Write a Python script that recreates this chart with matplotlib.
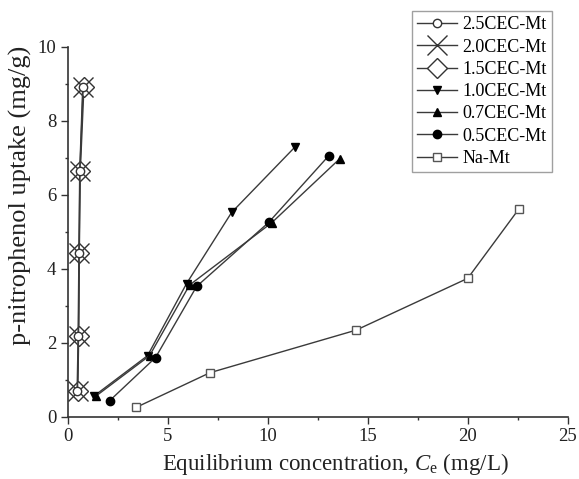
import matplotlib
matplotlib.use("Agg")
import matplotlib.pyplot as plt
from matplotlib.ticker import MultipleLocator

plt.rcParams['font.family'] = ['Liberation Serif', 'DejaVu Serif']
plt.rcParams['mathtext.fontset'] = 'custom'
plt.rcParams['mathtext.rm'] = 'Liberation Serif'
plt.rcParams['mathtext.it'] = 'Liberation Serif:italic'

labels = ["2.5CEC-Mt", "2.0CEC-Mt", "1.5CEC-Mt", "1.0CEC-Mt", "0.7CEC-Mt", "0.5CEC-Mt", "Na-Mt"]

x_25 = [0.48, 0.53, 0.57, 0.61, 0.76]
y_25 = [0.69, 2.17, 4.42, 6.65, 8.90]
x_20 = [0.50, 0.55, 0.58, 0.62, 0.78]
y_20 = [0.69, 2.17, 4.42, 6.65, 8.90]
x_15 = [0.51, 0.56, 0.59, 0.64, 0.82]
y_15 = [0.69, 2.17, 4.42, 6.65, 8.90]
x_10 = [1.30, 4.00, 5.95, 8.20, 11.35]
y_10 = [0.55, 1.65, 3.60, 5.52, 7.28]
x_07 = [1.40, 4.10, 6.10, 10.20, 13.60]
y_07 = [0.55, 1.65, 3.56, 5.24, 6.97]
x_05 = [2.10, 4.40, 6.45, 10.05, 13.05]
y_05 = [0.43, 1.60, 3.52, 5.25, 7.05]
x_na = [3.42, 7.12, 14.42, 20.00, 22.55]
y_na = [0.25, 1.19, 2.34, 3.74, 5.61]

fig = plt.figure(figsize=(5.79, 4.79), dpi=100)
ax = fig.add_axes([0.1166, 0.130, 0.864, 0.7725])

lc = '#3a3a3a'
lw = 1.0
ax.plot(x_25, y_25, '-', color=lc, lw=lw, marker='o', ms=6, mfc='white', mec='#333333', mew=1.0, label=labels[0], zorder=5)
ax.plot(x_20, y_20, '-', color=lc, lw=lw, marker='x', ms=14, mec='#333333', mew=1.0, label=labels[1], zorder=4)
ax.plot(x_15, y_15, '-', color=lc, lw=lw, marker='D', ms=10, mfc='white', mec='#333333', mew=1.0, label=labels[2], zorder=3)
ax.plot(x_10, y_10, '-', color=lc, lw=lw, marker='v', ms=6, mfc='black', mec='black', label=labels[3])
ax.plot(x_07, y_07, '-', color=lc, lw=lw, marker='^', ms=6, mfc='black', mec='black', label=labels[4])
ax.plot(x_05, y_05, '-', color=lc, lw=lw, marker='o', ms=6, mfc='black', mec='black', label=labels[5])
ax.plot(x_na, y_na, '-', color=lc, lw=lw, marker='s', ms=6, mfc='white', mec='#555555', mew=1.0, label=labels[6])

ax.set_xlim(0, 25)
ax.set_ylim(0, 10)
ax.xaxis.set_major_locator(MultipleLocator(5))
ax.xaxis.set_minor_locator(MultipleLocator(2.5))
ax.yaxis.set_major_locator(MultipleLocator(2))
ax.yaxis.set_minor_locator(MultipleLocator(1))
ax.spines['top'].set_visible(False)
ax.spines['right'].set_visible(False)
for s in ('left', 'bottom'):
    ax.spines[s].set_linewidth(1.2)
    ax.spines[s].set_color('#333333')
ax.tick_params(which='major', direction='out', length=5, width=1.0, labelsize=13.5, pad=3,
               colors='#333333', labelcolor='#222222')
ax.tick_params(which='minor', direction='out', length=2.5, width=1.0, colors='#333333')

ax.set_xlabel(r'Equilibrium concentration, $\mathit{C}_{\mathrm{e}}$ (mg/L)', fontsize=16.5, color='#222222')
ax.set_ylabel('p-nitrophenol uptake (mg/g)', fontsize=19, color='#222222')
ax.xaxis.set_label_coords(0.535, -0.092)
ax.yaxis.set_label_coords(-0.071, 0.598)

leg = ax.legend(loc='upper right', bbox_to_anchor=(0.9685, 1.0965), fontsize=13, frameon=True, fancybox=False,
                edgecolor='#888888', handlelength=2.2, handletextpad=0.3, borderpad=0.3, labelspacing=0.29,
                borderaxespad=0)
leg.get_frame().set_linewidth(1.0)

fig.savefig('out.png', dpi=100)
